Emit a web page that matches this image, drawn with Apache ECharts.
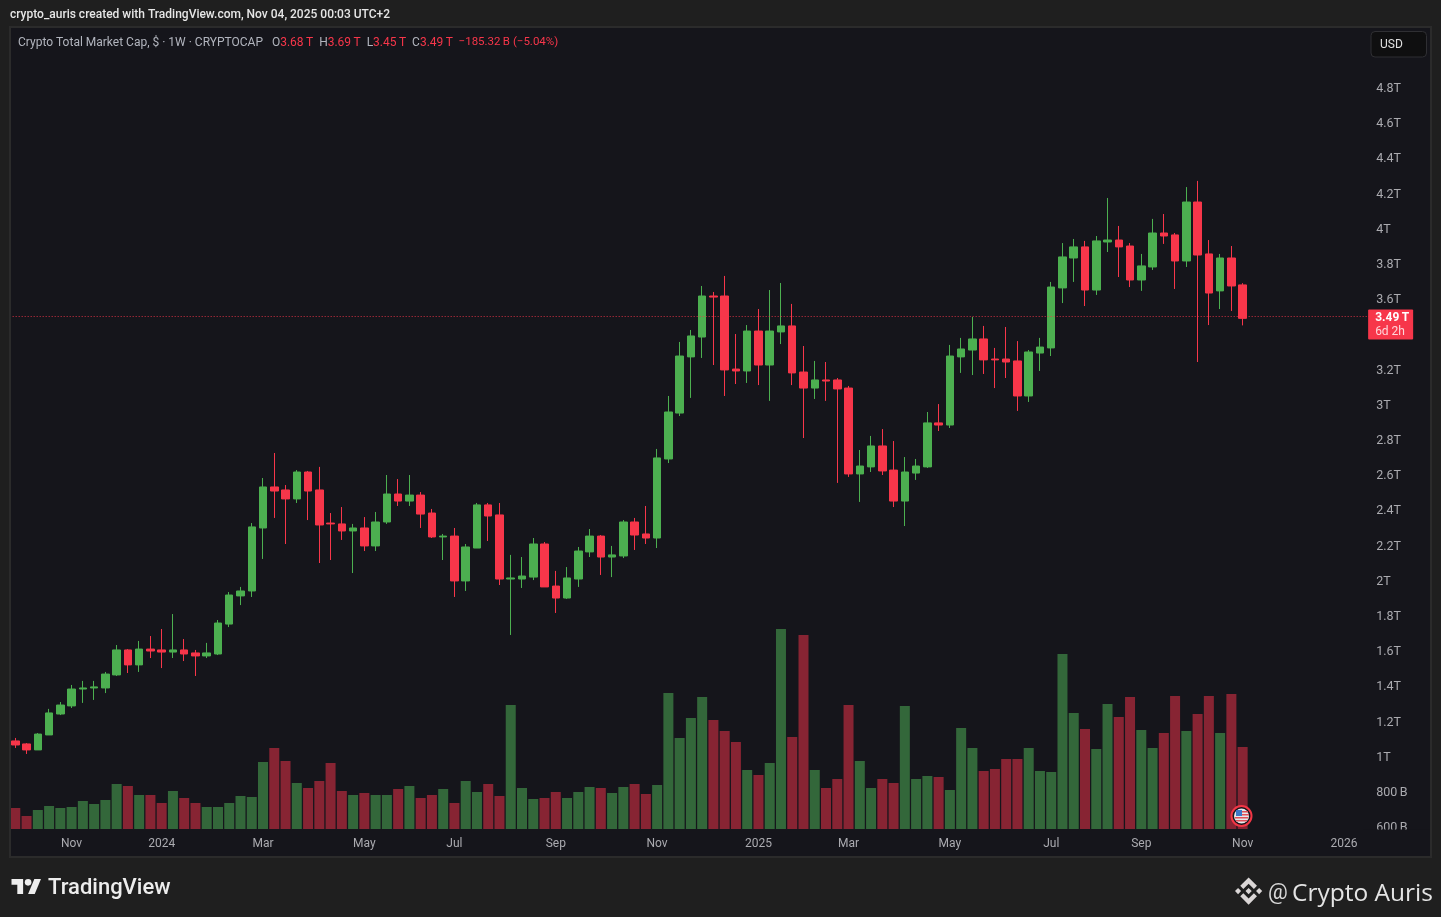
<!DOCTYPE html>
<html><head><meta charset="utf-8">
<style>html,body{margin:0;padding:0;background:#1f1f1f;overflow:hidden}#c{width:1441px;height:917px}</style>
<script src="https://cdn.jsdelivr.net/npm/echarts@6/dist/echarts.min.js"></script>
</head><body><div id="c"></div>
<script>
// weekly candles, values in trillions of USD
const opens=[1.089,1.072,1.038,1.123,1.242,1.288,1.384,1.390,1.390,1.464,1.606,1.521,1.611,1.606,1.594,1.606,1.589,1.572,1.583,1.753,1.913,1.941,2.299,2.532,2.515,2.464,2.617,2.515,2.327,2.322,2.282,2.299,2.197,2.333,2.492,2.452,2.486,2.384,2.248,2.253,1.998,2.185,2.430,2.373,2.009,2.009,2.020,2.208,1.969,1.901,2.009,2.163,2.253,2.134,2.140,2.333,2.265,2.242,2.691,2.952,3.271,3.384,3.617,3.617,3.202,3.191,3.418,3.225,3.413,3.447,3.185,3.094,3.140,3.140,3.094,2.606,2.646,2.765,2.628,2.452,2.611,2.646,2.896,2.884,3.271,3.310,3.373,3.259,3.259,3.248,3.049,3.293,3.322,3.663,3.833,3.896,3.651,3.924,3.935,3.901,3.708,3.782,3.975,3.964,3.816,4.151,3.856,3.646,3.833,3.68];
const closes=[1.066,1.038,1.128,1.248,1.293,1.384,1.390,1.396,1.469,1.606,1.521,1.611,1.600,1.594,1.606,1.583,1.572,1.589,1.759,1.918,1.941,2.305,2.532,2.509,2.464,2.617,2.509,2.316,2.322,2.282,2.299,2.197,2.333,2.492,2.452,2.486,2.378,2.248,2.253,1.998,2.191,2.430,2.367,2.009,2.015,2.026,2.208,1.964,1.901,2.015,2.168,2.253,2.134,2.146,2.333,2.259,2.242,2.697,2.958,3.276,3.390,3.617,3.611,3.197,3.191,3.418,3.225,3.418,3.447,3.180,3.094,3.140,3.134,3.089,2.606,2.651,2.765,2.623,2.452,2.617,2.651,2.896,2.884,3.276,3.316,3.373,3.254,3.254,3.242,3.049,3.299,3.327,3.668,3.839,3.896,3.651,3.930,3.935,3.896,3.708,3.788,3.975,3.958,3.816,4.151,3.850,3.634,3.833,3.674,3.49];
const highs=[1.106,1.077,1.134,1.271,1.310,1.407,1.430,1.430,1.481,1.634,1.611,1.657,1.685,1.725,1.810,1.668,1.606,1.646,1.776,1.935,1.964,2.327,2.583,2.725,2.543,2.628,2.623,2.646,2.384,2.418,2.322,2.361,2.390,2.600,2.577,2.600,2.503,2.407,2.265,2.299,2.208,2.441,2.441,2.441,2.146,2.134,2.242,2.219,2.055,2.077,2.191,2.293,2.259,2.197,2.344,2.356,2.424,2.748,3.049,3.356,3.424,3.674,3.640,3.731,3.401,3.452,3.543,3.651,3.691,3.572,3.333,3.248,3.242,3.151,3.106,2.742,2.822,2.861,2.793,2.702,2.691,2.958,3.003,3.339,3.379,3.498,3.447,3.322,3.441,3.361,3.310,3.379,3.697,3.918,3.941,3.930,3.958,4.174,4.015,3.918,3.856,4.055,4.083,3.975,4.236,4.271,3.935,3.856,3.901,3.69];
const lows=[1.049,1.015,1.038,1.123,1.236,1.276,1.305,1.322,1.361,1.458,1.475,1.481,1.560,1.503,1.560,1.543,1.458,1.560,1.577,1.736,1.861,1.907,2.123,2.356,2.208,2.441,2.344,2.100,2.117,2.231,2.043,2.168,2.168,2.322,2.424,2.424,2.299,2.242,2.117,1.907,1.941,2.185,2.225,1.975,1.691,1.958,2.003,1.964,1.816,1.896,1.964,2.134,2.032,2.020,2.128,2.174,2.208,2.185,2.668,2.935,3.038,3.265,3.225,3.049,3.117,3.123,3.111,3.021,3.344,3.111,2.810,3.032,3.021,2.555,2.589,2.447,2.617,2.600,2.418,2.310,2.572,2.640,2.850,2.867,3.180,3.168,3.174,3.094,3.151,2.964,3.015,3.191,3.276,3.577,3.697,3.560,3.623,3.867,3.725,3.668,3.646,3.765,3.913,3.657,3.782,3.242,3.452,3.543,3.532,3.45];
// weekly volume, relative units
const volumes=[21,13,19,23,21,22,28,25,29,45,43,34,34,26,38,31,26,22,22,26,33,32,67,81,68,46,41,48,66,38,34,36,34,34,40,43,31,34,40,26,48,37,45,33,124,41,30,31,37,31,37,42,41,36,42,45,35,44,136,91,111,132,109,98,87,59,54,66,200,92,194,59,41,50,124,68,41,50,46,123,50,53,52,39,101,81,58,60,70,70,81,58,57,175,116,100,80,125,112,132,99,81,96,133,98,115,133,96,135,82];
// x axis: week index of each tick and its text
const tickWeeks=[5,13,22,31,39,48,57,66,74,83,92,100,109,118];
const tickNames=['Nov','2024','Mar','May','Jul','Sep','Nov','2025','Mar','May','Jul','Sep','Nov','2026'];
const lastPrice=3.495;
const weekSlots=121;

const UP='#4CAF50',DOWN='#F7364A',UPV='#33673A',DOWNV='#872433';
const PANEL='#15151B',PAGE='#1F1F1F',FRAME='#2B2B2B';
const FONT='Roboto, sans-serif';
const categories=Array.from({length:weekSlots},(_,i)=>String(i));
const labelAt={};tickWeeks.forEach((w,i)=>labelAt[w]=tickNames[i]);
const candles=opens.map((o,i)=>[o,closes[i],lows[i],highs[i]]);
const bars=volumes.map((v,i)=>({value:v,itemStyle:{color:closes[i]>=opens[i]?UPV:DOWNV}}));

function fmtPrice(v){
  if(v>4.85)return '';
  if(v<0.99)return Math.round(v*1000)+'\u2009B';
  return (+v.toFixed(1))+'T';
}
const chart=echarts.init(document.getElementById('c'),null,{renderer:'canvas',width:1441,height:917});
const legendRich={g:{fill:'#B2B5BE',font:'12px '+FONT},r:{fill:DOWN,font:'12px '+FONT},s:{fill:DOWN,font:'11.5px '+FONT}};
const poly=(points,fill)=>({type:'polygon',z:70,shape:{points},style:{fill}});
chart.setOption({
  animation:false,
  backgroundColor:PANEL,
  grid:[
    {left:9.67,width:1362.46,top:87.8,height:739.2},
    {left:9.67,width:1362.46,top:629,height:200}
  ],
  xAxis:[
    {type:'category',gridIndex:0,data:categories,show:false,boundaryGap:true},
    {type:'category',gridIndex:1,data:categories,boundaryGap:true,
     axisLine:{show:false},axisTick:{show:false},splitLine:{show:false},
     axisLabel:{interval:0,margin:9,color:'#ABABB0',fontFamily:FONT,fontSize:12,hideOverlap:false,
       formatter:(v,i)=>labelAt[i]||''}}
  ],
  yAxis:[
    {type:'value',gridIndex:0,position:'right',min:0.6,max:4.8,interval:0.2,
     axisLine:{show:false},axisTick:{show:false},splitLine:{show:false},
     axisLabel:{margin:4,color:'#ABABB0',fontFamily:FONT,fontSize:12.5,verticalAlign:'top',lineHeight:2,formatter:fmtPrice,showMinLabel:true,showMaxLabel:true}},
    {type:'value',gridIndex:1,min:0,max:200,show:false,splitLine:{show:false}}
  ],
  series:[
    {type:'bar',xAxisIndex:1,yAxisIndex:1,data:bars,barWidth:10,z:1,silent:true},
    {type:'candlestick',xAxisIndex:0,yAxisIndex:0,data:candles,barWidth:8,z:3,silent:true,
     itemStyle:{color:UP,color0:DOWN,borderColor:UP,borderColor0:DOWN,borderWidth:1},
     markLine:{silent:true,symbol:'none',animation:false,
       lineStyle:{type:[1,2],color:'rgba(247,54,74,.85)',width:1},
       label:{show:true,position:'end',distance:-4,offset:[0,8],formatter:'{a|3.49\u2009T}\n{b|6d 2h}',
         backgroundColor:DOWN,borderRadius:1,padding:[1,4,1,7],align:'left',
         rich:{a:{color:'#fff',fontFamily:FONT,fontSize:12,fontWeight:'bold',lineHeight:14,align:'left'},
               b:{color:'#FFD5DA',fontFamily:FONT,fontSize:12,lineHeight:14,align:'left'}}},
       data:[{yAxis:lastPrice}]}}
  ],
  graphic:[
    // clip the lowest price label at the bottom of the pane
    {type:'rect',z:50,silent:true,shape:{x:1363,y:829.5,width:68,height:27},style:{fill:PANEL}},
    // page surround and frame
    {type:'rect',z:60,silent:true,shape:{x:0,y:0,width:1441,height:26},style:{fill:PAGE}},
    {type:'rect',z:60,silent:true,shape:{x:0,y:858,width:1441,height:59},style:{fill:PAGE}},
    {type:'rect',z:60,silent:true,shape:{x:0,y:0,width:9,height:917},style:{fill:PAGE}},
    {type:'rect',z:60,silent:true,shape:{x:1432,y:0,width:9,height:917},style:{fill:PAGE}},
    {type:'rect',z:61,silent:true,shape:{x:10,y:27,width:1421,height:830},style:{fill:'transparent',stroke:FRAME,lineWidth:2}},
    // header
    {type:'text',z:70,silent:true,x:10,y:15,style:{text:'crypto_auris created with TradingView.com, Nov 04, 2025 00:03 UTC+2',fill:'#E6E6E6',font:'500 12px '+FONT,textVerticalAlign:'middle'}},
    {type:'text',z:70,silent:true,x:18,y:42.5,style:{
      text:'{g|Crypto Total Market Cap, $ · 1W · CRYPTOCAP   O}{r|3.68\u2009T}{g|  H}{r|3.69\u2009T}{g|  L}{r|3.45\u2009T}{g|  C}{r|3.49\u2009T}{s|  −185.32\u2009B (−5.04%)}',
      rich:legendRich,textVerticalAlign:'middle'}},
    // currency button
    {type:'rect',z:70,silent:true,shape:{x:1371,y:31.5,width:55.5,height:25.5,r:4},style:{fill:'#0F0F10',stroke:'#2F2F33',lineWidth:1}},
    {type:'text',z:71,silent:true,x:1380,y:45,style:{text:'USD',fill:'#E0E0E0',font:'12px '+FONT,textVerticalAlign:'middle'}},
    // event marker
    {type:'group',z:72,silent:true,children:[
      {type:'circle',z:72,shape:{cx:1241.5,cy:816,r:10},style:{fill:'#15151B',stroke:'#F23645',lineWidth:2}},
      {type:'circle',z:73,shape:{cx:1241.5,cy:816,r:7.5},style:{fill:'#E8E8EC'}},
      {type:'rect',z:74,shape:{x:1236,y:810,width:6,height:6},style:{fill:'#3C78C8'}},
      {type:'rect',z:74,shape:{x:1242,y:811,width:6,height:1.5},style:{fill:'#E0505A'}},
      {type:'rect',z:74,shape:{x:1242,y:814,width:7,height:1.5},style:{fill:'#E0505A'}},
      {type:'rect',z:74,shape:{x:1235,y:817,width:13,height:1.5},style:{fill:'#E0505A'}},
      {type:'rect',z:74,shape:{x:1236,y:820,width:11,height:1.5},style:{fill:'#E0505A'}}
    ]},
    // TradingView mark
    {type:'group',silent:true,x:11.5,y:875.7,scaleX:.83,scaleY:.83,children:[
      poly([[0,4],[14,4],[14,22],[7,22],[7,11],[0,11]],'#EDEDED'),
      poly([[28,22],[20,22],[27.5,4],[35.5,4]],'#EDEDED'),
      {type:'circle',z:70,shape:{cx:20,cy:8,r:4},style:{fill:'#EDEDED'}}
    ]},
    {type:'text',z:70,silent:true,x:48,y:888,style:{text:'TradingView',fill:'#EDEDED',font:'500 22px '+FONT,textVerticalAlign:'middle'}},
    // signature
    {type:'group',silent:true,x:1235,y:877.5,scaleX:.215,scaleY:.215,children:[
      poly([[38.73,53.2],[63.3,28.63],[87.9,53.23],[102.2,38.93],[63.3,0],[24.43,38.88]],'#DAD6D6'),
      poly([[0,63.3],[14.3,49],[28.6,63.3],[14.3,77.6]],'#DAD6D6'),
      poly([[38.73,73.41],[63.3,97.98],[87.9,73.38],[102.21,87.67],[63.31,126.58],[24.43,87.7]],'#DAD6D6'),
      poly([[97.99,63.31],[112.29,49.01],[126.6,63.31],[112.29,77.61]],'#DAD6D6'),
      poly([[77.83,63.3],[63.31,48.77],[48.79,63.3],[63.31,77.82]],'#DAD6D6')
    ]},
    {type:'text',z:70,silent:true,x:1268,y:893,style:{text:'@',fill:'#D8D8D8',font:'22px '+FONT,textVerticalAlign:'middle'}},
    {type:'text',z:70,silent:true,x:1292,y:894,style:{text:'Crypto Auris',fill:'#E4E4E4',font:'24.5px "Open Sans", sans-serif',textVerticalAlign:'middle'}}
  ]
});
</script></body></html>
